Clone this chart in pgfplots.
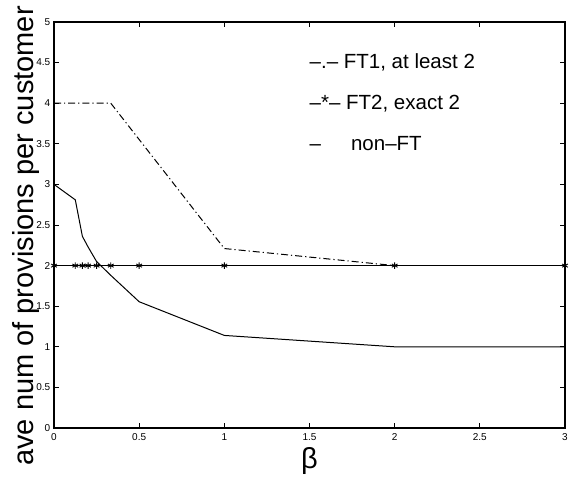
\documentclass[border=0pt]{standalone}
\usepackage{fontspec}
\setmainfont{Liberation Sans}
\usepackage{pgfplots}
\pgfplotsset{compat=1.18}

\begin{document}
\begin{tikzpicture}
\begin{axis}[name=ax, scale only axis, width=511pt, height=406pt,
 xmin=0, xmax=3, ymin=0, ymax=5,
 xtick={0,0.5,1,1.5,2,2.5,3},
 ytick={0,0.5,1,1.5,2,2.5,3,3.5,4,4.5,5},
 tick align=inside, major tick length=5pt,
 axis line style={line width=1.1pt},
 tick style={line width=0.7pt, black},
 /pgf/number format/assume math mode=true,
 ticklabel style={font=\fontsize{10}{11}\selectfont},
 xticklabel style={inner sep=1pt, yshift=-4pt},
 yticklabel style={inner sep=1pt, xshift=-2.5pt},
 xlabel={β},
 ylabel={ave num of provisions per customer},
 xlabel style={at={(axis description cs:0.5,-0.047)}, anchor=north, inner sep=0pt, font=\fontsize{29}{30}\selectfont},
 ylabel style={at={(axis description cs:-0.041,0.473)}, anchor=base, inner sep=0pt, font=\fontsize{29}{30}\selectfont},
]
\addplot[black, line width=1pt, dash pattern=on 7pt off 3pt on 1.2pt off 3pt]
 coordinates {(0,4)(0.3333,4)(1,2.21)(2,2)};
\addplot[black, line width=1pt, mark=asterisk, mark size=3.3pt, mark options={solid, line width=0.9pt}]
 coordinates {(0,2)(0.125,2)(0.1667,2)(0.2,2)(0.25,2)(0.3333,2)(0.5,2)(1,2)(2,2)(3,2)};
\addplot[black, line width=1pt]
 coordinates {(0,3)(0.125,2.81)(0.1667,2.36)(0.2,2.23)(0.25,2.05)(0.3333,1.88)(0.5,1.555)(1,1.14)(2,1.0)(3,1.0)};
\node[anchor=west, inner sep=0pt, font=\fontsize{20.5}{22}\selectfont] at (axis cs:1.5,4.5) {–.– FT1, at least 2};
\node[anchor=west, inner sep=0pt, font=\fontsize{20.5}{22}\selectfont] at (axis cs:1.5,4.0) {–*– FT2, exact 2};
\node[anchor=west, inner sep=0pt, font=\fontsize{20.5}{22}\selectfont] at (axis cs:1.5,3.5) {–\hspace{30pt}non–FT};
\end{axis}
\pgfresetboundingbox
\path (ax.south west) ++(-54pt,-48pt) rectangle ++(569pt,476pt);
\end{tikzpicture}
\end{document}
